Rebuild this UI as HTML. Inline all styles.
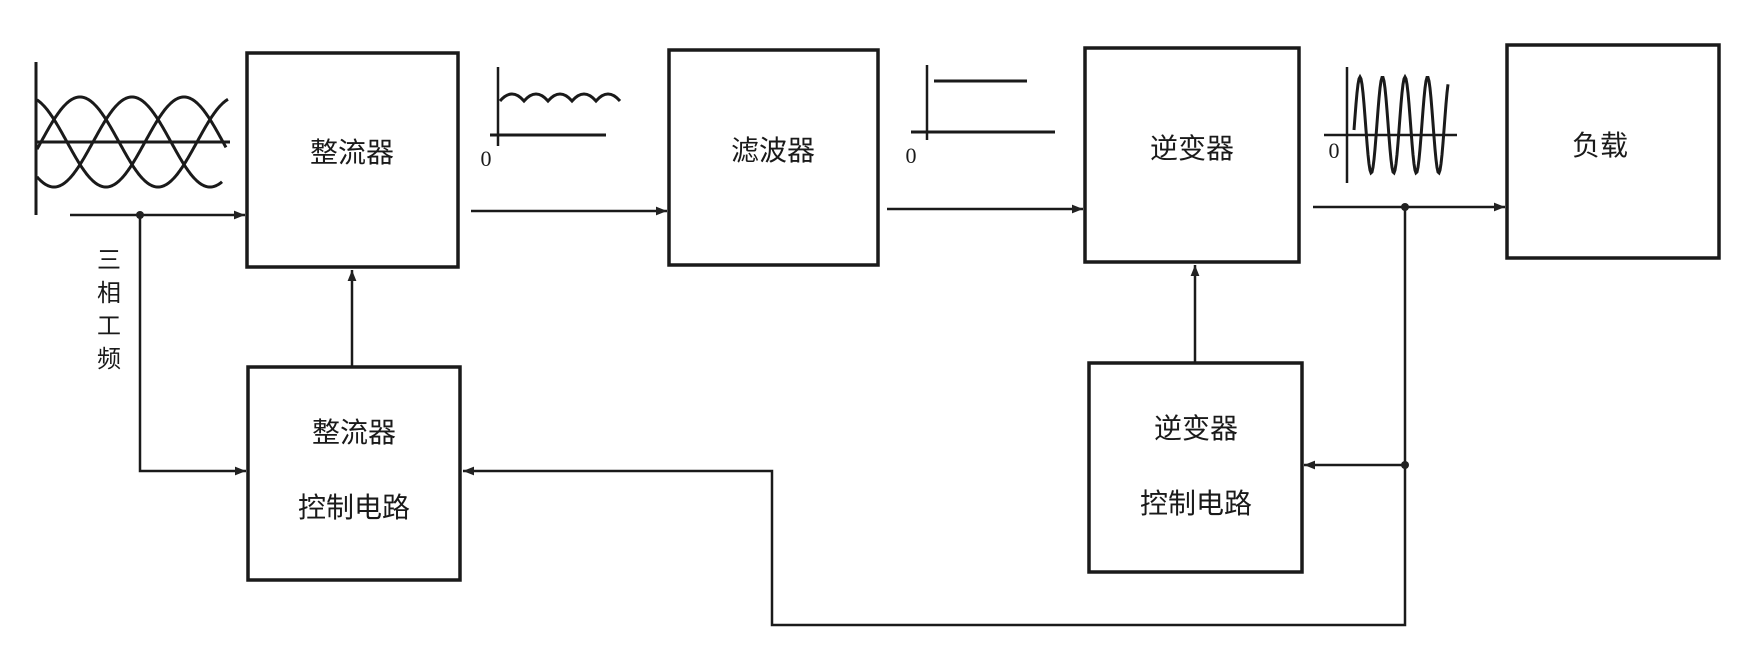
<!DOCTYPE html>
<html><head><meta charset="utf-8"><style>
body{margin:0;background:#fff}
svg{display:block}
text{font-family:"Liberation Sans","Noto Sans CJK SC",sans-serif;fill:#1a1a1a}
</style></head><body>
<svg id="s" width="1760" height="663" viewBox="0 0 1760 663" xmlns="http://www.w3.org/2000/svg">
<defs>
<marker id="b" viewBox="0 0 10 10" refX="10" refY="5" markerWidth="22" markerHeight="11" orient="auto" markerUnits="userSpaceOnUse"><path d="M0,1 L10,5 L0,9 z" fill="#222"/></marker>
</defs>
<g fill="none" stroke="#1a1a1a" stroke-width="3.5">
<rect x="247" y="53" width="211" height="214"/>
<rect x="669" y="50" width="209" height="215"/>
<rect x="1085" y="48" width="214" height="214"/>
<rect x="1507" y="45" width="212" height="213"/>
<rect x="248" y="367" width="212" height="213"/>
<rect x="1089" y="363" width="213" height="209"/>
</g>
<g fill="none" stroke="#1a1a1a" stroke-width="2.5">
<line x1="70" y1="215" x2="245" y2="215" marker-end="url(#b)"/>
<polyline points="140,215 140,471 246,471" marker-end="url(#b)"/>
<line x1="352" y1="367" x2="352" y2="270" marker-end="url(#b)"/>
<line x1="471" y1="211" x2="667" y2="211" marker-end="url(#b)"/>
<line x1="887" y1="209" x2="1083" y2="209" marker-end="url(#b)"/>
<line x1="1313" y1="207" x2="1505" y2="207" marker-end="url(#b)"/>
<polyline points="1405,207 1405,625 772,625 772,471 463,471" marker-end="url(#b)"/>
<line x1="1405" y1="465" x2="1304" y2="465" marker-end="url(#b)"/>
<line x1="1195" y1="363" x2="1195" y2="265" marker-end="url(#b)"/>
<line x1="36" y1="62" x2="36" y2="215" stroke-width="3"/>
<line x1="36" y1="142" x2="230" y2="142" stroke-width="3"/>
<path id="w1" stroke-width="3"/><path id="w2" stroke-width="3"/><path id="w3" stroke-width="3"/>
<line x1="498" y1="67" x2="498" y2="146"/>
<line x1="490" y1="135" x2="606" y2="135" stroke-width="3"/>
<path d="M500,101 q12,-14 24,0 q12,-14 24,0 q12,-14 24,0 q12,-14 24,0 q12,-14 24,0" stroke-width="3"/>
<line x1="927" y1="65" x2="927" y2="140"/>
<line x1="934" y1="81" x2="1027" y2="81" stroke-width="3"/>
<line x1="911" y1="132" x2="1055" y2="132" stroke-width="3"/>
<line x1="1347" y1="67" x2="1347" y2="183"/>
<line x1="1324" y1="135" x2="1457" y2="135"/>
<path id="w4" stroke-width="3"/>
</g>
<g fill="#222">
<circle cx="140" cy="215" r="4"/>
<circle cx="1405" cy="207" r="4"/>
<circle cx="1405" cy="465" r="4"/>
</g>
<g font-size="28" text-anchor="middle">
<text x="352" y="162">整流器</text>
<text x="773" y="160">滤波器</text>
<text x="1192" y="158">逆变器</text>
<text x="1600" y="155">负载</text>
<text x="354" y="442">整流器</text>
<text x="354" y="517">控制电路</text>
<text x="1196" y="438">逆变器</text>
<text x="1196" y="513">控制电路</text>
</g>
<g font-size="22" text-anchor="middle">
<text x="486" y="166" style="font-family:'Liberation Serif',serif">0</text>
<text x="911" y="163" style="font-family:'Liberation Serif',serif">0</text>
<text x="1334" y="158" style="font-family:'Liberation Serif',serif">0</text>
</g>
<g font-size="24" text-anchor="middle">
<text x="109" y="268">三</text>
<text x="109" y="301">相</text>
<text x="109" y="334">工</text>
<text x="109" y="367">频</text>
</g>
</svg>
<script>
function sp(x0,x1,per,amp,cy,xc){var d="";for(var x=x0;x<=x1;x+=1){var y=cy-amp*Math.cos(2*Math.PI*(x-xc)/per);d+=(x==x0?"M":"L")+x+","+y.toFixed(1)+" ";}return d;}
document.getElementById("w1").setAttribute("d",sp(37,228,156,45,142,80));
document.getElementById("w2").setAttribute("d",sp(37,222,156,45,142,132));
document.getElementById("w3").setAttribute("d",sp(37,226,156,45,142,184));
document.getElementById("w4").setAttribute("d",sp(1354,1448,22.5,48,125,1360));
</script>
</body></html>
